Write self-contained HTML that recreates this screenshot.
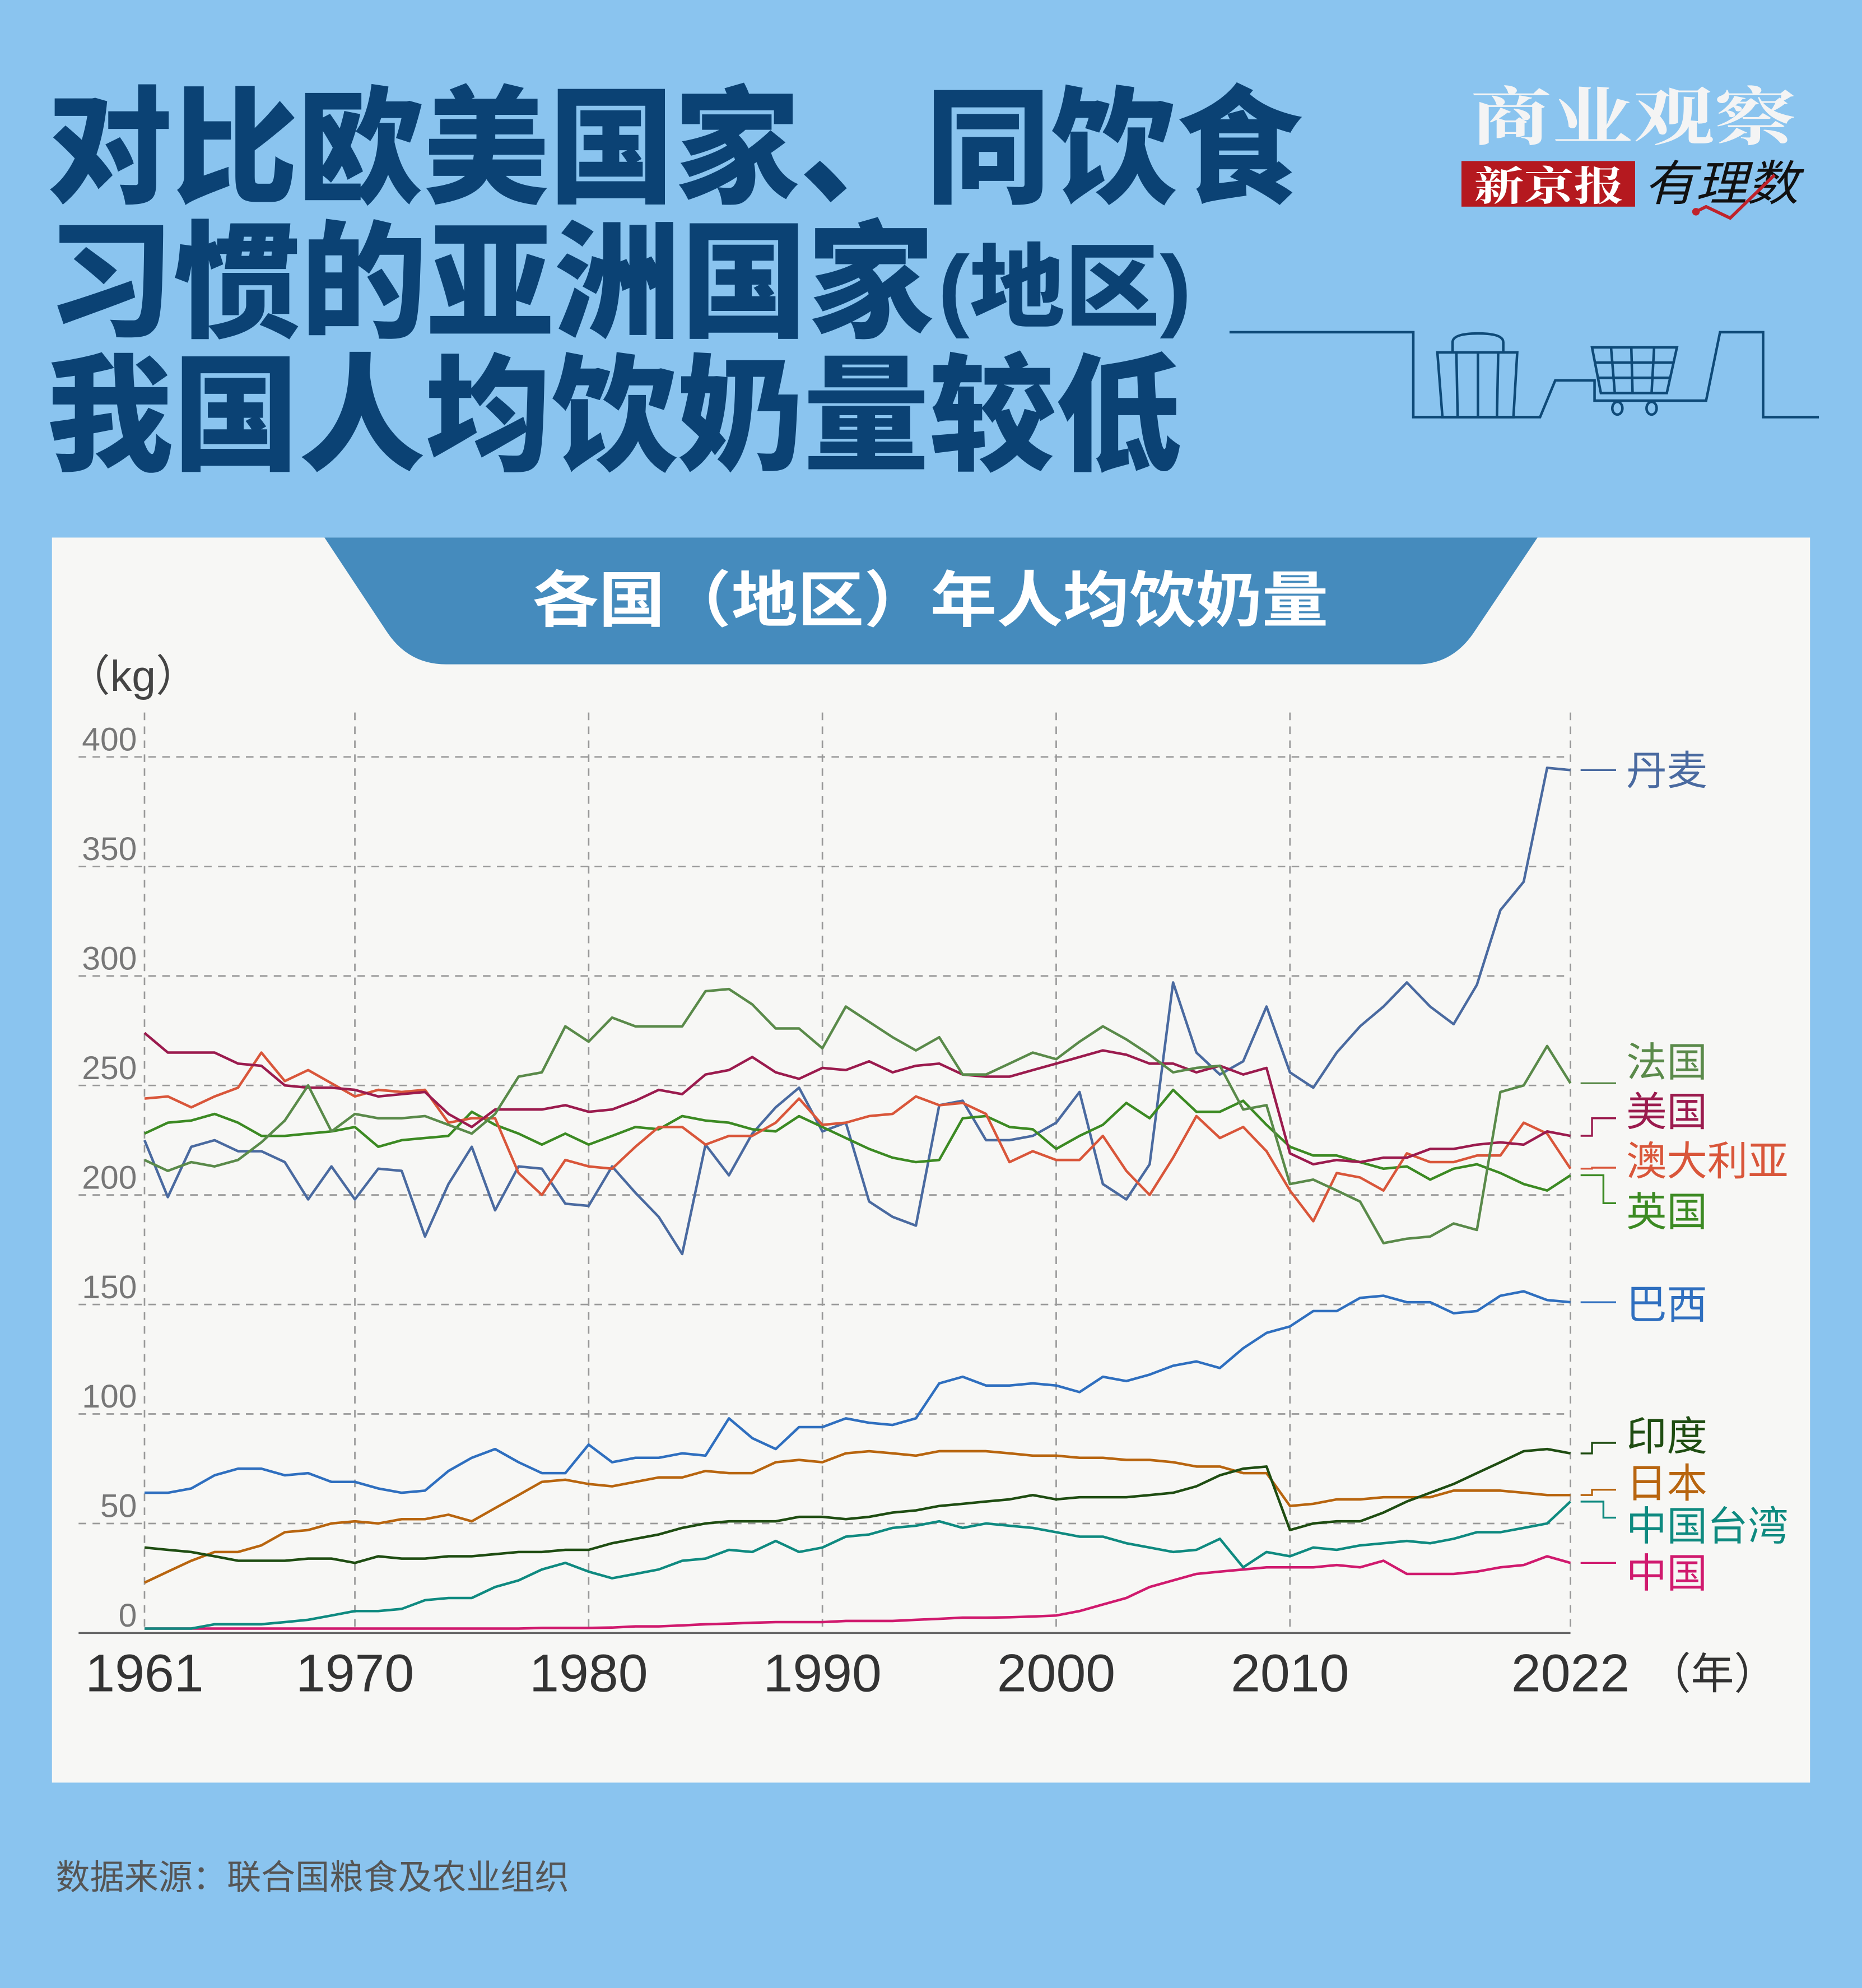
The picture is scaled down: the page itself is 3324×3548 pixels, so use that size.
<!DOCTYPE html>
<html><head><meta charset="utf-8"><style>
html,body{margin:0;padding:0;background:#8ac4ef;}
svg{display:block;}
text{font-family:"Liberation Sans","Noto Sans CJK SC",sans-serif;}
</style></head><body>
<svg id="s" xmlns="http://www.w3.org/2000/svg" width="3324" height="3548" viewBox="0 0 1469 1568">
<rect width="1469" height="1568" fill="#8ac4ef"/>
<g fill="#0b4274" font-weight="900" style="font-family:'Noto Sans CJK SC',sans-serif">
<text x="37" y="152" font-size="100" textLength="990" lengthAdjust="spacingAndGlyphs">对比欧美国家、同饮食</text>
<text x="37" y="258" font-size="100" textLength="700" lengthAdjust="spacingAndGlyphs">习惯的亚洲国家</text>
<text x="740" y="252" font-size="72" textLength="200" lengthAdjust="spacingAndGlyphs">(地区)</text>
<text x="37" y="363" font-size="100" textLength="895" lengthAdjust="spacingAndGlyphs">我国人均饮奶量较低</text>
</g>
<text x="1160" y="110" font-size="50" fill="#f4f4f4" font-weight="bold" style="font-family:'Noto Serif CJK SC',serif" textLength="257" lengthAdjust="spacingAndGlyphs">商业观察</text>
<rect x="1153" y="127" width="137" height="36" fill="#b5191f"/>
<text x="1163" y="158" font-size="32" fill="#fff" font-weight="bold" style="font-family:'Noto Serif CJK SC',serif" textLength="118" lengthAdjust="spacingAndGlyphs">新京报</text>
<text x="1297" y="158" font-size="38" fill="#111" font-style="italic" style="font-family:'Noto Sans CJK SC',sans-serif" textLength="122" lengthAdjust="spacingAndGlyphs">有理数</text>
<polyline points="1338,167 1346,163 1365,172 1400,138" fill="none" stroke="#c0232b" stroke-width="2.5"/>
<circle cx="1338" cy="167" r="3" fill="#c0232b"/>
<g fill="none" stroke="#0e4a78" stroke-width="2">
<polyline points="970,262 1115,262 1115,329 1215,329 1227,300 1258,300 1258,316 1346,316 1357,262 1391,262 1391,329 1435,329"/>
<polygon points="1134,278 1197,278 1194,329 1138,329"/>
<path d="M1146,278 L1146,270 Q1146,263 1166,263 Q1186,263 1186,270 L1186,278"/>
<line x1="1149" y1="278" x2="1150" y2="329"/><line x1="1166" y1="278" x2="1166" y2="329"/><line x1="1182" y1="278" x2="1181" y2="329"/>
<polygon points="1256,274 1323,274 1315,310 1263,310"/>
<line x1="1258" y1="286" x2="1321" y2="286"/><line x1="1260" y1="298" x2="1318" y2="298"/>
<line x1="1271" y1="274" x2="1274" y2="310"/><line x1="1287" y1="274" x2="1288" y2="310"/><line x1="1305" y1="274" x2="1303" y2="310"/>
<ellipse cx="1276" cy="322" rx="4" ry="5"/><ellipse cx="1303" cy="322" rx="4" ry="5"/>
</g>
<rect x="41" y="424" width="1387" height="982" fill="#f7f7f5"/>
<path d="M256,424 L1213,424 L1162,500 Q1145,524 1118,524 L352,524 Q322,524 305,498 Z" fill="#458bbd"/>
<text x="420" y="490" font-size="48" fill="#fff" font-weight="bold" textLength="628" lengthAdjust="spacingAndGlyphs" style="font-family:'Noto Sans CJK SC',sans-serif">各国（地区）年人均饮奶量</text>
<text x="53" y="545" font-size="34" fill="#444">（kg）</text>
<g id="grid"></g>
<g id="series"></g>
<g id="labels"></g>
<text x="44" y="1490" font-size="27" fill="#555" style="font-family:'Noto Sans CJK SC',sans-serif">数据来源：联合国粮食及农业组织</text>
</svg>
<script>
var NS="http://www.w3.org/2000/svg";
function X(y){return 114+(y-1961)*1125/61;}
function Y(v){return 1288-v*691/400;}
function el(p,t,a,txt){var e=document.createElementNS(NS,t);for(var k in a)e.setAttribute(k,a[k]);if(txt)e.textContent=txt;p.appendChild(e);return e;}
var g=document.getElementById('grid');
for(var v=50;v<=400;v+=50){el(g,'line',{x1:62,x2:1239,y1:Y(v),y2:Y(v),stroke:'#999','stroke-width':1.2,'stroke-dasharray':'6,5'});}
for(var v=0;v<=400;v+=50){el(g,'text',{x:108,y:Y(v)-5,'font-size':26,fill:'#777','text-anchor':'end'},String(v));}
el(g,'line',{x1:62,x2:1239,y1:1288,y2:1288,stroke:'#666','stroke-width':1.5});
[1961,1970,1980,1990,2000,2010,2022].forEach(function(y){
el(g,'line',{x1:X(y),x2:X(y),y1:562,y2:1288,stroke:'#999','stroke-width':1.2,'stroke-dasharray':'6,5'});
el(g,'text',{x:X(y),y:1334,'font-size':42,fill:'#333','text-anchor':'middle'},String(y));});
el(g,'text',{x:1300,y:1332,'font-size':34,fill:'#333'},'（年）');
var D={
dk:[225,199,222,225,220,220,215,198,213,198,212,211,181,205,222,193,213,212,196,195,213,201,190,173,223,209,228,240,249,229,233,197,190,186,241,243,225,225,227,233,247,205,198,214,297,265,255,261,286,256,249,265,277,286,297,286,278,296,330,343,395,394],
fr:[216,211,215,213,216,224,234,250,229,237,235,235,236,232,228,237,254,256,277,270,281,277,277,277,293,294,287,276,276,267,286,279,272,266,272,255,255,260,265,262,270,277,271,264,256,258,259,239,241,205,207,202,197,178,180,181,187,184,247,250,268,251],
us:[274,265,265,265,260,259,250,249,249,248,245,246,247,237,231,239,239,239,241,238,239,243,248,246,255,257,263,256,253,258,257,261,256,259,260,255,254,254,257,260,263,266,264,260,260,256,259,255,258,219,214,216,215,217,217,221,221,223,224,223,229,227],
au:[244,245,240,245,249,265,252,257,251,245,248,247,248,233,235,235,210,200,216,213,212,222,231,231,223,227,227,233,244,232,233,236,237,245,241,242,237,215,220,216,216,227,211,200,217,236,226,231,220,202,188,210,208,202,219,215,215,218,218,233,228,212],
uk:[228,233,234,237,233,227,227,228,229,231,222,225,226,227,238,232,228,223,228,223,227,231,230,236,234,233,230,229,236,231,226,221,217,215,216,235,236,231,230,221,227,232,242,235,248,238,238,243,232,222,218,218,215,212,213,207,212,214,210,205,202,209],
br:[64,64,66,72,75,75,72,73,69,69,66,64,65,74,80,84,78,73,73,86,78,80,80,82,81,98,89,84,94,94,98,96,95,98,114,117,113,113,114,113,110,117,115,118,122,124,121,130,137,140,147,147,153,154,151,151,146,147,154,156,152,151],
in:[39,38,37,35,33,33,33,34,34,32,35,34,34,35,35,36,37,37,38,38,41,43,45,48,50,51,51,51,53,53,52,53,55,56,58,59,60,61,63,61,62,62,62,63,64,67,72,75,76,47,50,51,51,55,60,64,68,73,78,83,84,82],
jp:[23,28,33,37,37,40,46,47,50,51,50,52,52,54,51,57,63,69,70,68,67,69,71,71,74,73,73,78,79,78,82,83,82,81,83,83,83,82,81,81,80,80,79,79,78,76,76,73,73,58,59,61,61,62,62,62,65,65,65,64,63,63],
tw:[2,2,2,4,4,4,5,6,8,10,10,11,15,16,16,21,24,29,32,28,25,27,29,33,34,38,37,42,37,39,44,45,48,49,51,48,50,49,48,46,44,44,41,39,37,38,43,30,37,35,39,38,40,41,42,41,43,46,46,48,50,60],
cn:[2,2,2,2,2,2,2,2,2,2,2,2,2,2,2,2,2,2.3,2.3,2.3,2.5,3,3,3.5,4,4.3,4.7,5,5,5,5.5,5.5,5.5,6,6.5,7,7,7.2,7.5,8,10,13,16,21,24,27,28,29,30,30,30,31,30,33,27,27,27,28,30,31,35,32]};
var C={dk:'#4a6aa0',fr:'#5a8a4a',us:'#9b1b4e',au:'#d9563a',uk:'#3c8a23',br:'#2f6fbf',in:'#1f4d12',jp:'#b8650f',tw:'#0f8a80',cn:'#d01a6e'};
var s=document.getElementById('series');
['cn','tw','jp','in','br','dk','uk','au','us','fr'].forEach(function(k){
var pts=D[k].map(function(v,i){return X(1961+i).toFixed(1)+','+Y(v).toFixed(1);}).join(' ');
el(s,'polyline',{points:pts,fill:'none',stroke:C[k],'stroke-width':2,'stroke-linejoin':'round'});});
var L=[['dk','丹麦',607,0],['fr','法国',837,0],['us','美国',876,1],['au','澳大利亚',915,1],['uk','英国',955,2],['br','巴西',1028,0],['in','印度',1132,1],['jp','日本',1169,1],['tw','中国台湾',1203,2],['cn','中国',1240,0]];
var lg=document.getElementById('labels');
L.forEach(function(a){var k=a[0],ly=a[2],vy=Y(D[k][61]);
var mx=a[3]==2?1265:1256;var cy=ly+(a[3]==2?-6:6);
var pts;
if(a[3]){pts='1247,'+vy+' '+mx+','+vy+' '+mx+','+cy+' 1275,'+cy;}else{pts='1247,'+vy+' 1275,'+vy;}
el(lg,'polyline',{points:pts,fill:'none',stroke:C[k],'stroke-width':1.5});
el(lg,'text',{x:1283,y:ly+12,'font-size':32,fill:C[k],style:"font-family:'Noto Sans CJK SC',sans-serif"},a[1]);});
</script>
</body></html>
